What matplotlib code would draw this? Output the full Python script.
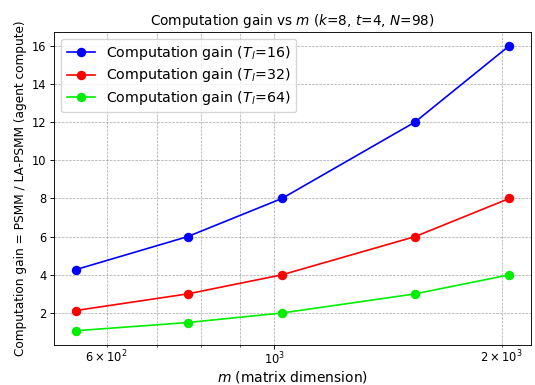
import matplotlib
matplotlib.use("Agg")
import matplotlib.pyplot as plt

m_values = [546, 768, 1024, 1536, 2048]
gain_T16 = [4.27, 6, 8, 12, 16]
gain_T32 = [2.13, 3, 4, 6, 8]
gain_T64 = [1.07, 1.5, 2, 3, 4]
labels = [r"Computation gain ($T_l$=16)", r"Computation gain ($T_l$=32)", r"Computation gain ($T_l$=64)"]
colors = ["#0000ff", "#ff0000", "#00ee00"]

s = 0.8  # scale factor (pt at 100 dpi relative to source)
plt.rcParams.update({
    'xtick.major.size': 3.5 * s, 'ytick.major.size': 3.5 * s,
    'xtick.minor.size': 2 * s, 'ytick.minor.size': 2 * s,
    'xtick.major.width': 0.8 * s, 'ytick.major.width': 0.8 * s,
    'xtick.minor.width': 0.6 * s, 'ytick.minor.width': 0.6 * s,
    'xtick.major.pad': 1.2, 'ytick.major.pad': 3.5 * s,
    'xtick.minor.pad': 1.2,
    'axes.linewidth': 0.8 * s,
})

fig = plt.figure(figsize=(5.35, 3.85), dpi=100)
ax = fig.add_axes([54/535, 1-345/385, (531-54)/535, (345-31.5)/385])
for ys, lab, c in zip([gain_T16, gain_T32, gain_T64], labels, colors):
    ax.plot(m_values, ys, marker='o', color=c, label=lab, markersize=5.8, linewidth=1.2)
ax.set_xscale('log')
ax.grid(True, which='both', linestyle='--', color='gray', linewidth=0.5, alpha=0.7)
ax.tick_params(which='both', labelsize=8.3)
ax.set_xlabel(r"$m$ (matrix dimension)", fontsize=10, labelpad=1.5)
ax.set_ylabel("Computation gain = PSMM / LA-PSMM (agent compute)", fontsize=8.7, labelpad=3)
ax.set_title(r"Computation gain vs $m$ ($k$=8, $t$=4, $N$=98)", fontsize=9.8, pad=6 * s)
ax.legend(loc='upper left', fontsize=10.2, labelspacing=0.3, borderpad=0.4)
fig.savefig("out.png", dpi=100)
